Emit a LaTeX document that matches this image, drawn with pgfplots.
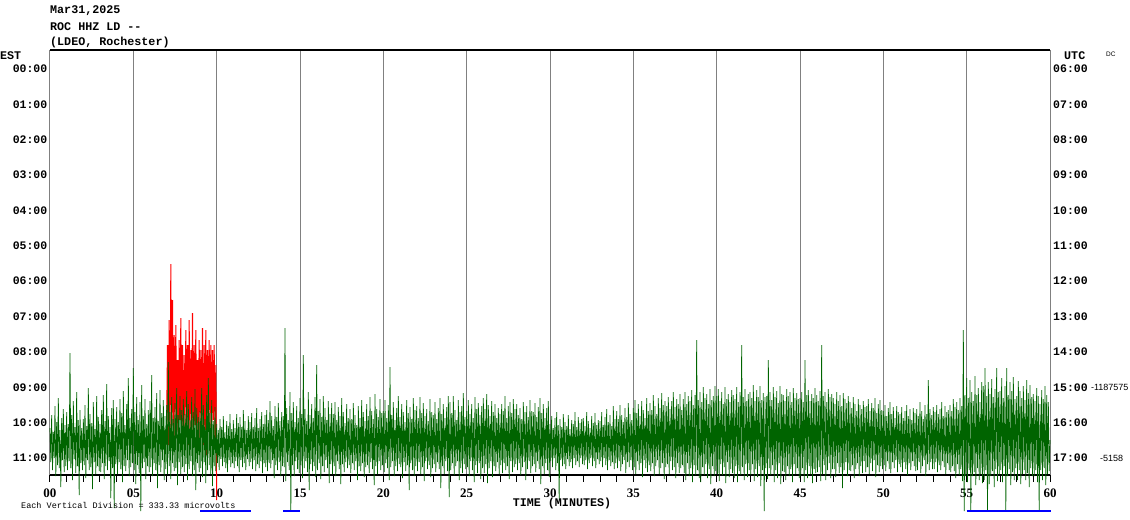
\documentclass[border=0pt]{standalone}
\usepackage{pgfplots}
\pgfplotsset{compat=1.18}
\usepackage{pgfplotstable}
\usepackage{fontspec}
\setmainfont{Liberation Serif}
\setsansfont{Liberation Sans}
\newfontfamily\mono{Liberation Mono}
\definecolor{trgreen}{RGB}{0,100,0}
\definecolor{gridgray}{RGB}{128,128,128}
\tikzset{mb/.style={font=\mono\bfseries\fontsize{11.7}{12}\selectfont, inner sep=0pt, anchor=west}}

% green trace, pixel-row units, one sample every 0.05 minute (one line = one minute)
\pgfplotstableread[row sep=\\,col sep=space]{
y\\
428\\462\\415\\470\\432\\458\\406\\476\\422\\465\\398\\468\\430\\487\\418\\460\\409\\472\\425\\466\\
412\\470\\424\\461\\353\\468\\415\\480\\401\\459\\427\\473\\392\\466\\420\\495\\410\\463\\428\\470\\
419\\465\\405\\478\\426\\460\\388\\470\\414\\467\\423\\489\\402\\462\\429\\474\\396\\466\\417\\471\\
424\\472\\410\\463\\395\\479\\421\\466\\384\\470\\416\\461\\427\\498\\408\\468\\400\\508\\419\\464\\
407\\474\\422\\462\\399\\469\\413\\482\\391\\466\\425\\471\\404\\460\\378\\476\\418\\467\\409\\463\\
368\\470\\412\\484\\397\\465\\420\\473\\402\\511\\385\\468\\416\\462\\399\\479\\424\\466\\410\\472\\
401\\467\\375\\476\\418\\463\\407\\470\\393\\488\\421\\465\\390\\472\\413\\460\\400\\480\\416\\469\\
405\\474\\362\\466\\412\\479\\397\\463\\419\\471\\403\\468\\388\\485\\415\\462\\396\\474\\410\\467\\
399\\472\\414\\464\\391\\480\\404\\469\\420\\461\\397\\476\\412\\470\\389\\490\\408\\463\\417\\472\\
411\\468\\388\\477\\405\\462\\419\\483\\395\\470\\378\\465\\413\\474\\400\\486\\421\\466\\407\\471\\
424\\463\\430\\470\\419\\459\\427\\466\\416\\462\\432\\468\\421\\472\\426\\460\\414\\467\\429\\463\\
420\\468\\428\\461\\414\\466\\423\\472\\417\\460\\427\\467\\410\\463\\421\\470\\430\\459\\416\\466\\
422\\462\\413\\469\\427\\460\\418\\471\\408\\464\\428\\468\\419\\461\\412\\473\\424\\463\\415\\467\\
410\\471\\420\\463\\401\\468\\416\\460\\426\\478\\406\\465\\417\\470\\403\\462\\421\\476\\412\\466\\
416\\467\\328\\481\\408\\462\\420\\470\\392\\511\\413\\465\\402\\476\\422\\461\\406\\469\\418\\473\\
398\\465\\414\\478\\355\\468\\409\\461\\421\\472\\392\\490\\415\\464\\404\\471\\418\\466\\397\\477\\
365\\470\\411\\463\\399\\479\\417\\466\\396\\472\\408\\460\\420\\468\\401\\483\\414\\464\\403\\474\\
414\\466\\402\\476\\420\\461\\407\\469\\416\\484\\398\\464\\412\\472\\423\\462\\404\\468\\418\\465\\
409\\473\\419\\463\\403\\470\\415\\461\\425\\480\\406\\466\\418\\471\\400\\463\\412\\477\\421\\467\\
404\\465\\416\\473\\397\\462\\411\\469\\419\\485\\394\\466\\409\\474\\417\\461\\399\\470\\413\\465\\
411\\472\\400\\463\\418\\468\\405\\480\\367\\467\\415\\461\\402\\476\\420\\466\\408\\471\\396\\464\\
417\\467\\404\\478\\412\\462\\422\\471\\400\\465\\413\\490\\407\\463\\419\\470\\398\\476\\410\\466\\
406\\471\\418\\462\\397\\474\\413\\467\\403\\481\\416\\461\\409\\469\\421\\465\\399\\477\\412\\468\\
415\\464\\402\\472\\419\\462\\408\\469\\398\\488\\414\\466\\404\\474\\418\\461\\407\\471\\396\\497\\
402\\470\\413\\463\\396\\475\\410\\466\\420\\461\\400\\480\\412\\468\\406\\473\\393\\464\\417\\469\\
411\\467\\400\\476\\414\\461\\404\\470\\418\\482\\397\\465\\409\\473\\403\\463\\415\\479\\406\\468\\
398\\473\\409\\464\\394\\483\\405\\468\\416\\461\\401\\477\\412\\466\\404\\471\\418\\462\\408\\474\\
414\\465\\404\\473\\411\\463\\396\\470\\418\\466\\406\\479\\402\\461\\413\\472\\399\\467\\409\\464\\
404\\470\\415\\463\\408\\475\\419\\467\\402\\462\\412\\480\\406\\469\\417\\461\\400\\473\\411\\466\\
412\\464\\403\\472\\417\\461\\407\\469\\398\\484\\413\\466\\404\\474\\418\\463\\408\\470\\401\\477\\
424\\461\\416\\467\\428\\458\\418\\470\\412\\463\\425\\500\\419\\460\\427\\466\\414\\464\\422\\469\\
426\\459\\415\\466\\429\\462\\420\\468\\424\\458\\412\\465\\427\\461\\417\\467\\423\\458\\419\\464\\
418\\465\\426\\460\\412\\469\\421\\463\\428\\458\\416\\466\\423\\461\\413\\468\\425\\459\\420\\464\\
421\\461\\412\\467\\425\\458\\417\\465\\409\\470\\422\\460\\415\\466\\426\\462\\406\\469\\419\\463\\
411\\468\\419\\461\\405\\471\\415\\464\\422\\460\\408\\473\\417\\462\\403\\467\\414\\460\\420\\470\\
408\\467\\400\\474\\413\\461\\404\\470\\416\\463\\401\\477\\410\\460\\418\\468\\398\\472\\411\\465\\
403\\471\\410\\463\\395\\476\\406\\466\\414\\460\\398\\474\\408\\468\\393\\463\\405\\479\\401\\467\\
406\\464\\397\\474\\409\\461\\401\\470\\392\\467\\407\\478\\399\\463\\404\\473\\394\\468\\410\\465\\
399\\473\\392\\480\\404\\463\\396\\476\\401\\468\\390\\482\\405\\465\\395\\475\\340\\470\\400\\478\\
392\\482\\402\\467\\387\\475\\398\\464\\394\\478\\404\\469\\389\\484\\400\\466\\396\\476\\386\\471\\
396\\474\\389\\481\\401\\464\\392\\475\\404\\467\\387\\483\\399\\462\\394\\477\\402\\469\\390\\473\\
395\\478\\399\\466\\387\\482\\402\\471\\392\\475\\345\\467\\397\\480\\389\\464\\401\\477\\394\\470\\
392\\475\\398\\464\\385\\481\\401\\469\\390\\477\\397\\466\\386\\486\\400\\470\\393\\511\\397\\468\\
396\\479\\360\\468\\392\\475\\400\\465\\387\\482\\397\\470\\391\\478\\403\\463\\386\\484\\394\\471\\
395\\472\\401\\480\\389\\466\\396\\476\\392\\469\\402\\482\\388\\464\\398\\474\\393\\468\\399\\478\\
398\\476\\392\\468\\402\\482\\360\\470\\395\\478\\390\\466\\401\\474\\394\\483\\398\\469\\388\\473\\
395\\472\\401\\467\\391\\481\\345\\474\\396\\465\\392\\480\\402\\470\\389\\463\\397\\478\\394\\469\\
398\\469\\404\\477\\392\\463\\401\\473\\395\\467\\406\\488\\393\\470\\399\\462\\403\\476\\396\\470\\
402\\471\\408\\465\\397\\478\\404\\469\\411\\463\\399\\476\\405\\466\\409\\473\\401\\461\\407\\472\\
406\\467\\399\\474\\411\\463\\403\\471\\408\\460\\398\\477\\413\\465\\404\\472\\400\\466\\410\\469\\
411\\465\\405\\471\\416\\461\\408\\469\\402\\473\\414\\462\\407\\468\\418\\460\\406\\472\\412\\464\\
414\\467\\407\\472\\418\\462\\411\\469\\405\\475\\416\\463\\409\\470\\420\\461\\408\\466\\413\\471\\
409\\470\\416\\462\\402\\473\\411\\466\\419\\460\\405\\476\\414\\464\\380\\470\\409\\462\\415\\469\\
407\\469\\412\\462\\405\\472\\414\\465\\409\\470\\402\\461\\416\\467\\406\\474\\412\\463\\410\\470\\
405\\472\\411\\466\\399\\471\\407\\478\\402\\464\\410\\475\\398\\469\\406\\481\\330\\511\\395\\476\\
378\\482\\398\\470\\380\\511\\392\\476\\401\\472\\376\\485\\395\\468\\388\\480\\402\\474\\382\\483\\
386\\480\\368\\470\\396\\511\\382\\484\\394\\476\\379\\471\\397\\487\\389\\469\\368\\481\\392\\474\\
391\\470\\378\\482\\398\\466\\386\\511\\368\\476\\395\\469\\382\\485\\391\\472\\377\\480\\399\\468\\
396\\480\\381\\470\\391\\484\\398\\474\\386\\470\\400\\480\\380\\473\\393\\487\\385\\468\\397\\476\\
394\\476\\401\\470\\388\\482\\396\\511\\404\\470\\390\\480\\399\\468\\386\\485\\395\\474\\402\\471\\
440\\
}\greentrace

% red (triggered) segment, one sample every 0.05 minute from 7.00 to 10.00
\pgfplotstableread[row sep=\\,col sep=space]{
y\\
420\\345\\445\\320\\430\\264\\440\\300\\425\\335\\
445\\325\\430\\360\\440\\340\\420\\318\\450\\345\\
430\\355\\440\\330\\425\\345\\445\\320\\435\\350\\
430\\313\\440\\345\\425\\330\\450\\360\\430\\340\\
440\\350\\425\\328\\445\\345\\430\\330\\455\\350\\
420\\340\\440\\345\\430\\350\\420\\345\\440\\365\\
500\\
}\redtrace

\begin{document}
\begin{tikzpicture}
\begin{axis}[
  scale only axis, width=1000pt, height=425pt,
  xmin=0, xmax=60, ymin=50, ymax=475, y dir=reverse,
  clip=false,
  separate axis lines,
  x axis line style={black, line width=1.4pt},
  y axis line style={gridgray, line width=1pt},
  xtick={0,5,...,60},
  xticklabels={00,05,10,15,20,25,30,35,40,45,50,55,60},
  minor x tick num=4,
  tick align=outside,
  xtick pos=left,
  major tick length=6.5pt, minor tick length=6.5pt,
  every tick/.append style={black, line width=1pt},
  every minor tick/.append style={black, line width=1pt},
  xmajorgrids,
  major grid style={gridgray, line width=1pt},
  xticklabel style={font=\bfseries\fontsize{13}{13}\selectfont, inner sep=0pt, yshift=-7pt},
  ytick={69,104.36,139.73,175.09,210.45,245.82,281.18,316.55,351.91,387.27,422.64,458},
  yticklabels={00:00,01:00,02:00,03:00,04:00,05:00,06:00,07:00,08:00,09:00,10:00,11:00},
  ytick style={draw=none},
  ytick pos=left,
  yticklabel style={font=\mono\bfseries\fontsize{11.5}{12}\selectfont, inner sep=1pt, xshift=5pt},
]
\addplot[red, line width=1pt] table[x expr=7+\coordindex*0.05, y=y] {\redtrace};
\addplot[trgreen, line width=0.7pt] table[x expr=\coordindex*0.05, y=y] {\greentrace};
\addplot[blue, line width=1.3pt] coordinates {(9,511) (12.05,511)};
\addplot[blue, line width=1.3pt] coordinates {(14,511) (15,511)};
\addplot[blue, line width=1.3pt] coordinates {(55,511) (60.05,511)};
\node[mb] at (axis cs:0,11) {Mar31,2025};
\node[mb] at (axis cs:0,26.5) {ROC HHZ LD -{}-};
\node[mb] at (axis cs:0,42) {(LDEO, Rochester)};
\node[mb] at (axis cs:-3,56) {EST};
\node[mb] at (axis cs:60.84,56) {UTC};
\node[font=\sffamily\fontsize{6.5}{7}\selectfont, inner sep=0pt, anchor=west] at (axis cs:63.36,54) {DC};
\node[font=\sffamily\fontsize{9}{9}\selectfont, inner sep=0pt, anchor=west] at (axis cs:62.45,387) {-1187575};
\node[font=\sffamily\fontsize{9}{9}\selectfont, inner sep=0pt, anchor=west] at (axis cs:63.0,458) {-5158};
\node[font=\mono\bfseries\fontsize{11.7}{12}\selectfont, inner sep=0pt] at (axis cs:30.72,503) {TIME (MINUTES)};
\node[font=\mono\fontsize{8.5}{9}\selectfont, inner sep=0pt, anchor=west] at (axis cs:-1.74,505) {Each Vertical Division = 333.33 microvolts};
\path (axis cs:-3,0) rectangle (axis cs:64.8,519);
\end{axis}
\begin{axis}[
  scale only axis, width=1000pt, height=425pt,
  xmin=0, xmax=60, ymin=50, ymax=475, y dir=reverse,
  axis line style={draw=none},
  xtick=\empty,
  ytick={69,104.36,139.73,175.09,210.45,245.82,281.18,316.55,351.91,387.27,422.64,458},
  yticklabels={06:00,07:00,08:00,09:00,10:00,11:00,12:00,13:00,14:00,15:00,16:00,17:00},
  ytick style={draw=none},
  yticklabel pos=right,
  yticklabel style={font=\mono\bfseries\fontsize{11.5}{12}\selectfont, inner sep=1pt, xshift=2pt},
]
\end{axis}
\end{tikzpicture}
\end{document}
